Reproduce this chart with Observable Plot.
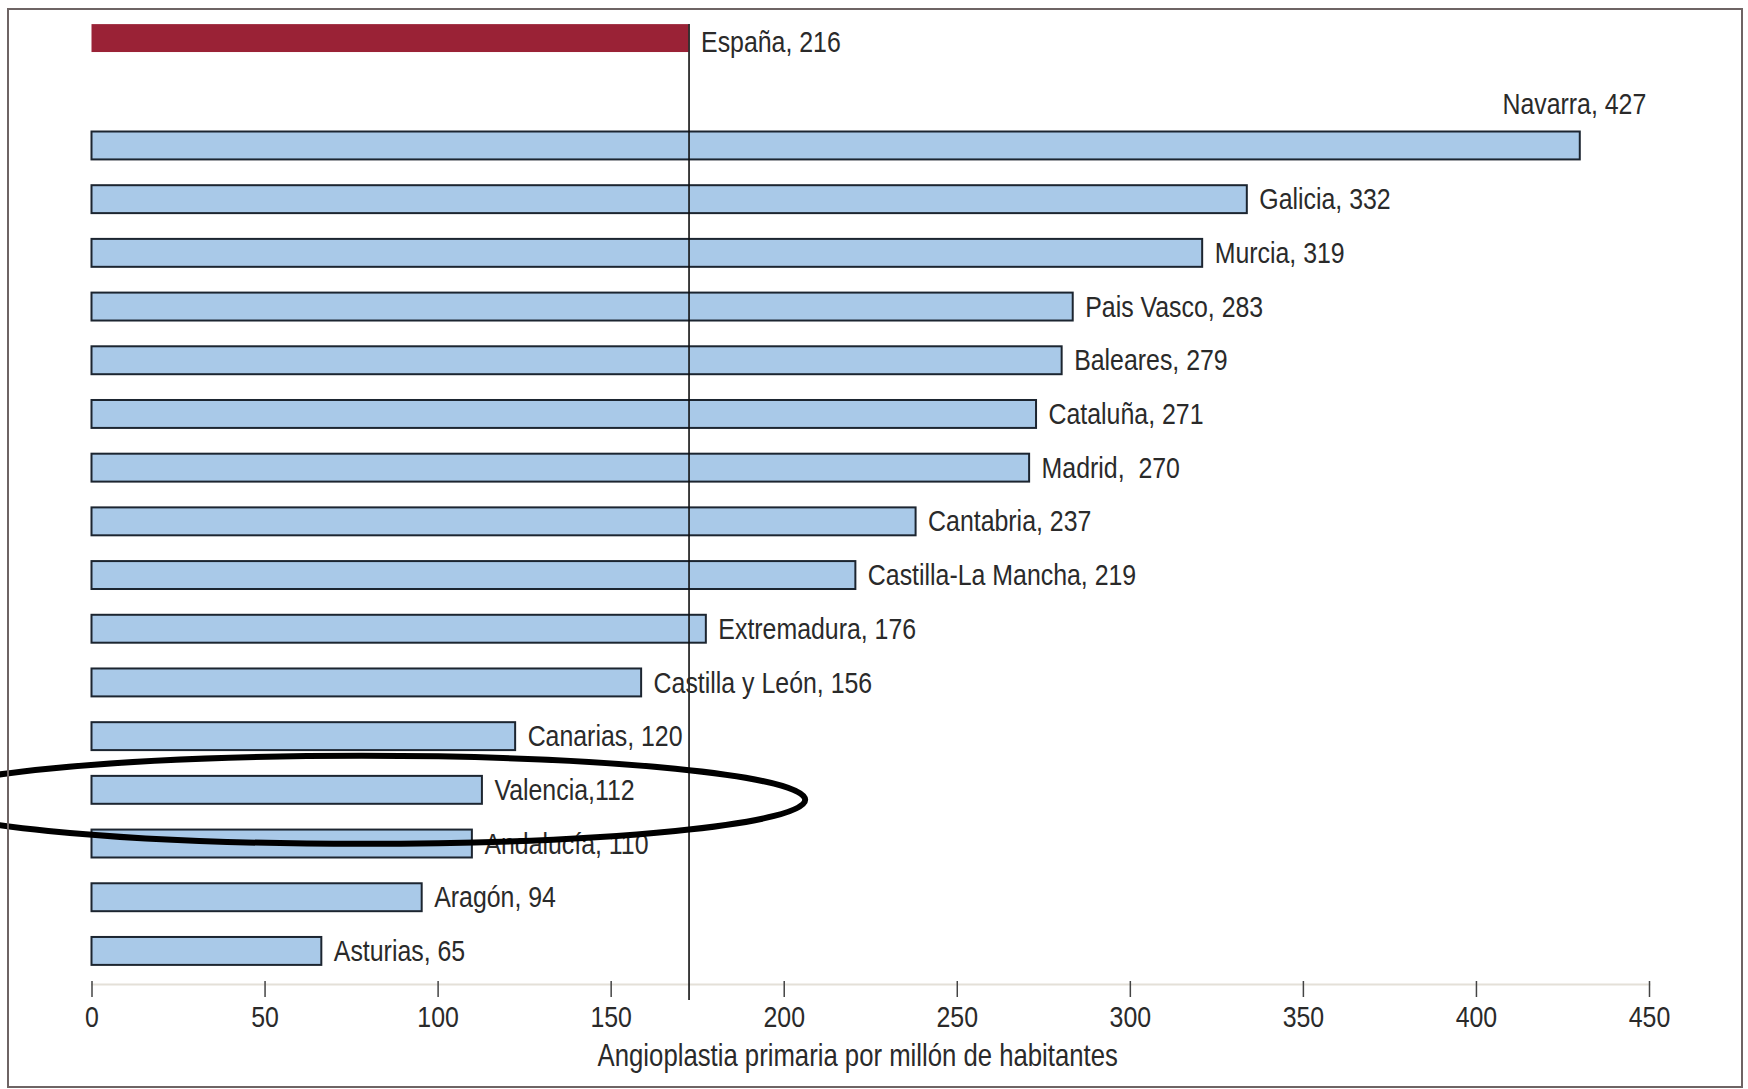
<!DOCTYPE html>
<html><head><meta charset="utf-8">
<script src="https://cdn.jsdelivr.net/npm/d3@7"></script>
<script src="https://cdn.jsdelivr.net/npm/@observablehq/plot@0.6"></script>
<style>
html,body{margin:0;padding:0;background:#fff;}
#wrap{position:relative;width:1748px;height:1089px;overflow:hidden;}
#frame{position:absolute;left:7px;top:8px;width:1736px;height:1080px;border:2px solid #6e6464;box-sizing:border-box;pointer-events:none;}
#chart{position:absolute;left:0;top:0;}
</style></head><body><div id="wrap"><div id="chart"></div><div id="frame"></div></div>
<script>
// Data (bar lengths as drawn, labels as printed)
const spainLabel = "España, 216";
const spainBar = 172.5;          // drawn length of the España bar
const referenceLine = 172.5;     // vertical reference line
const regions = ["Navarra","Galicia","Murcia","Pais Vasco","Baleares","Cataluña","Madrid","Cantabria","Castilla-La Mancha","Extremadura","Castilla y León","Canarias","Valencia","Andalucía","Aragón","Asturias"];
const values = [430,333.8,320.9,283.5,280.3,272.9,270.9,238.1,220.7,177.5,158.8,122.4,112.8,109.9,95.4,66.4];
const labels = ["Navarra, 427","Galicia, 332","Murcia, 319","Pais Vasco, 283","Baleares, 279","Cataluña, 271","Madrid,  270","Cantabria, 237","Castilla-La Mancha, 219","Extremadura, 176","Castilla y León, 156","Canarias, 120","Valencia,112","Andalucía, 110","Aragón, 94","Asturias, 65"];
const xTicks = [0,50,100,150,200,250,300,350,400,450];
const xTitle = "Angioplastia primaria por millón de habitantes";
const highlighted = "Valencia";

const rows = regions.map((r,i)=>({region:r, value:values[i], label:labels[i]}));
const spain = [{region:"España", value:spainBar, label:spainLabel}];
const yDomain = ["España"," ", ...regions];

const font = "'Liberation Sans',Arial,sans-serif";
const W = 1748, H = 1089;

const plot = Plot.plot({
  width: W, height: H,
  marginLeft: 91.5, marginRight: W-1649, marginTop: 8, marginBottom: 108,
  style: {fontFamily: font, fontSize: "30px", color: "#2a2a2a", background: "transparent", overflow:"visible"},
  x: {domain:[0,450]},
  y: {domain:yDomain, paddingInner:0.48, paddingOuter:0.3, round:false, axis:null},
  marks: [
    Plot.frame({anchor:"bottom", stroke:"#e4e0d8", strokeWidth:2, insetBottom:-3}),
    Plot.barX(rows, {x:"value", y:"region", fill:"#a9c9e8", stroke:"#1c2530", strokeWidth:2}),
    Plot.barX(spain, {x:"value", y:"region", fill:"#9a2236"}),
    Plot.ruleX([referenceLine], {stroke:"#111", strokeWidth:1.6, insetTop:16, insetBottom:-19}),
    Plot.text(rows.filter(d=>d.region!=="Navarra"), {x:"value", y:"region", text:"label", textAnchor:"start", dx:12, fill:"#2a2a2a"}),
    Plot.text(rows.filter(d=>d.region==="Navarra"), {x:"value", y:"region", text:"label", textAnchor:"end", dx:66, dy:-42, fill:"#2a2a2a"}),
    Plot.text(spain, {x:"value", y:"region", text:"label", textAnchor:"start", dx:12, dy:4, fill:"#2a2a2a"}),
    Plot.axisX({ticks:xTicks, tickSize:16, tickPadding:8, stroke:"#444", strokeWidth:1.5, fill:"#2a2a2a", label:null, tickFormat:d=>String(d)}),
    Plot.text([xTitle], {frameAnchor:"bottom", text:d=>d, dx:-13, dy:84, fontSize:31, fill:"#2a2a2a"})
  ]
});
document.getElementById("chart").appendChild(plot);

// Condense all text horizontally (the original uses a condensed typeface)
d3.select(plot).selectAll("text").each(function(){
  const t = this.getAttribute("transform") || "";
  const x = +(this.getAttribute("x") || 0);
  this.setAttribute("transform", `${t} translate(${x},0) scale(0.83,1) translate(${-x},0)`);
});

// Annotation ellipse around Valencia, positioned with the plot's scales
const sx = plot.scale("x"), sy = plot.scale("y");
const cy = sy.apply(highlighted) + sy.bandwidth/2 + 10;
const x0 = sx.apply(-50), x1 = sx.apply(206.2);
d3.select(plot).append("ellipse")
  .attr("cx",(x0+x1)/2).attr("cy",cy)
  .attr("rx",(x1-x0)/2).attr("ry",44)
  .attr("fill","none").attr("stroke","#000").attr("stroke-width",6);
</script></body></html>
